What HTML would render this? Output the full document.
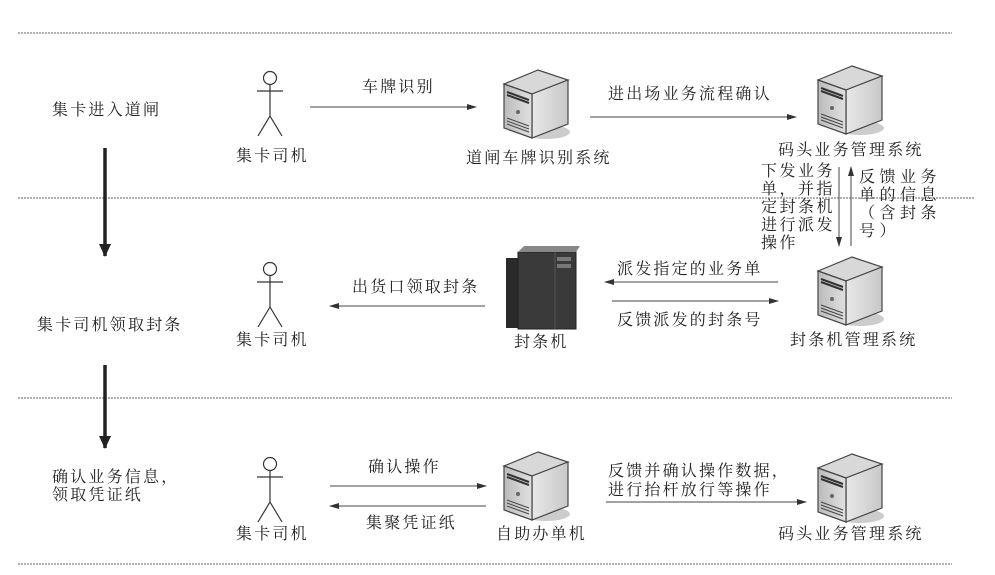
<!DOCTYPE html>
<html><head><meta charset="utf-8"><style>
html,body{margin:0;padding:0;background:#fff;}
svg{display:block;}
text{font-family:"Liberation Serif","Noto Serif CJK SC","Noto Sans CJK SC",serif;fill:#222;font-size:16px;letter-spacing:2.2px;}
</style></head><body>
<svg width="995" height="575" viewBox="0 0 995 575" xmlns="http://www.w3.org/2000/svg">
<defs>
<marker id="ah" markerWidth="10" markerHeight="8" refX="9" refY="4" orient="auto" markerUnits="userSpaceOnUse">
<path d="M0,1 L10,4 L0,7 Z" fill="#333"/></marker>
<marker id="bh" markerWidth="14" markerHeight="12" refX="12" refY="6" orient="auto" markerUnits="userSpaceOnUse">
<path d="M0,0 L13,6 L0,12 Z" fill="#222"/></marker>
<linearGradient id="sg" x1="0" x2="1"><stop offset="0" stop-color="#e8e8e8"/><stop offset="1" stop-color="#c8c8c8"/></linearGradient>
<linearGradient id="fg" x1="0" x2="1"><stop offset="0" stop-color="#bbb"/><stop offset="1" stop-color="#e0e0e0"/></linearGradient>
<symbol id="srv" viewBox="0 0 70 74" width="70" height="74">
<ellipse cx="44" cy="64" rx="24" ry="7" fill="#ccc"/>
<polygon points="2,16 36,2 66,12 30,26" fill="#d8d8d8" stroke="#444" stroke-width="1.2"/>
<polygon points="30,26 66,12 66,56 30,70" fill="url(#sg)" stroke="#444" stroke-width="1.2"/>
<polygon points="2,16 30,26 30,70 2,60" fill="url(#fg)" stroke="#444" stroke-width="1.2"/>
<path d="M5,24 L27,32 M5,27 L27,35" stroke="#333" stroke-width="2"/>
<circle cx="16" cy="44" r="2" fill="#666"/>
<path d="M5,50 L27,58 M5,53 L27,61 M5,56 L27,64" stroke="#444" stroke-width="1"/>
</symbol>
<symbol id="man" viewBox="0 0 30 70" width="30" height="70">
<circle cx="15" cy="8" r="6.5" fill="none" stroke="#333" stroke-width="1.2"/>
<path d="M15,14.5 V46 M2,21 H28 M15,46 L3,66 M15,46 L27,66" stroke="#333" stroke-width="1.2" fill="none"/>
</symbol>
</defs>

<g stroke="#666" stroke-width="1" stroke-dasharray="2,1">
<line x1="18" y1="33" x2="952" y2="33"/>
<line x1="18" y1="198" x2="975" y2="198"/>
<line x1="18" y1="398" x2="952" y2="398"/>
<line x1="18" y1="564" x2="952" y2="564"/>
</g>

<text x="52" y="115">集卡进入道闸</text>
<text x="37" y="330">集卡司机领取封条</text>
<text x="52" y="482">确认业务信息，</text>
<text x="52" y="500">领取凭证纸</text>
<line x1="105" y1="148" x2="105" y2="256" stroke="#222" stroke-width="3.5" marker-end="url(#bh)"/>
<line x1="105" y1="365" x2="105" y2="448" stroke="#222" stroke-width="3.5" marker-end="url(#bh)"/>

<use href="#man" x="255" y="70"/>
<text x="236" y="161">集卡司机</text>
<use href="#man" x="255" y="261"/>
<text x="236" y="345">集卡司机</text>
<use href="#man" x="255" y="456"/>
<text x="236" y="539">集卡司机</text>

<use href="#srv" x="502" y="68"/>
<text x="466" y="163">道闸车牌识别系统</text>
<use href="#srv" x="816" y="64"/>
<text x="778" y="155">码头业务管理系统</text>
<use href="#srv" x="816" y="255"/>
<text x="790" y="345">封条机管理系统</text>
<use href="#srv" x="502" y="450"/>
<text x="496" y="539">自助办单机</text>
<use href="#srv" x="816" y="452"/>
<text x="778" y="539">码头业务管理系统</text>

<rect x="506" y="258" width="14" height="70" fill="#2a2a2a"/>
<rect x="518" y="252" width="58" height="77" fill="#3a3a3a" stroke="#222"/>
<polygon points="518,252 524,246 580,246 576,252" fill="#888"/>
<rect x="557" y="257" width="14" height="4" fill="#777"/>
<rect x="557" y="264" width="14" height="4" fill="#777"/>
<line x1="555" y1="252" x2="555" y2="329" stroke="#555"/>
<text x="514" y="347">封条机</text>

<text x="362" y="92">车牌识别</text>
<line x1="310" y1="107" x2="476" y2="107" stroke="#444" marker-end="url(#ah)"/>
<text x="608" y="99">进出场业务流程确认</text>
<line x1="590" y1="117" x2="796" y2="117" stroke="#444" marker-end="url(#ah)"/>

<line x1="839" y1="167" x2="839" y2="246" stroke="#444" marker-end="url(#ah)"/>
<line x1="851" y1="246" x2="851" y2="167" stroke="#444" marker-end="url(#ah)"/>
<g font-size="15">
<text x="761" y="176" style="letter-spacing:2.5px">下发业务</text>
<text x="761" y="194" style="letter-spacing:2.5px">单，并指</text>
<text x="761" y="212" style="letter-spacing:2.5px">定封条机</text>
<text x="761" y="230" style="letter-spacing:2.5px">进行派发</text>
<text x="761" y="248" style="letter-spacing:2.5px">操作</text>
<text x="859" y="182" style="letter-spacing:4.5px">反馈业务</text>
<text x="859" y="200" style="letter-spacing:4.5px">单的信息</text>
<text x="859" y="218" style="letter-spacing:4.5px">（含封条</text>
<text x="859" y="236" style="letter-spacing:4.5px">号）</text>
</g>

<text x="352" y="292">出货口领取封条</text>
<line x1="485" y1="306" x2="330" y2="306" stroke="#444" marker-end="url(#ah)"/>
<text x="617" y="274">派发指定的业务单</text>
<line x1="778" y1="282" x2="605" y2="282" stroke="#444" marker-end="url(#ah)"/>
<line x1="612" y1="301" x2="778" y2="301" stroke="#444" marker-end="url(#ah)"/>
<text x="617" y="325">反馈派发的封条号</text>

<text x="368" y="472">确认操作</text>
<line x1="330" y1="486" x2="486" y2="486" stroke="#444" marker-end="url(#ah)"/>
<line x1="486" y1="506" x2="330" y2="506" stroke="#444" marker-end="url(#ah)"/>
<text x="366" y="528">集聚凭证纸</text>
<text x="608" y="476">反馈并确认操作数据，</text>
<text x="608" y="495">进行抬杆放行等操作</text>
<line x1="606" y1="502" x2="806" y2="502" stroke="#444" marker-end="url(#ah)"/>
</svg>
</body></html>
